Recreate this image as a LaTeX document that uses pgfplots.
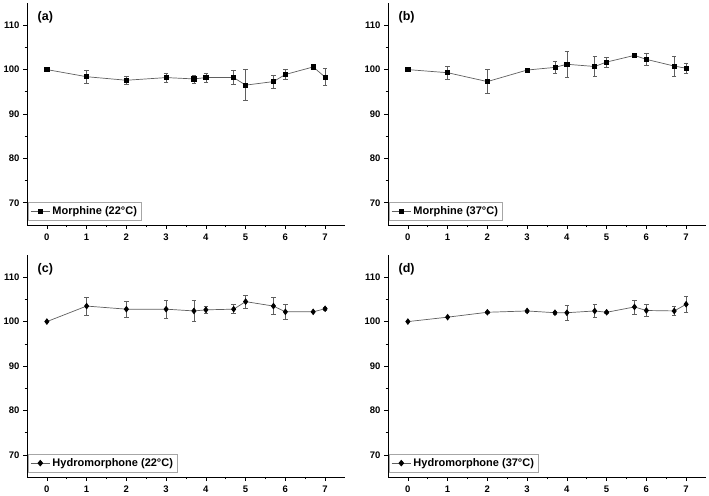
\documentclass[border=0pt]{standalone}
\usepackage{fontspec}
\setmainfont{Liberation Sans}
\usepackage{pgfplots}
\pgfplotsset{compat=1.18}
\definecolor{lncol}{RGB}{95,95,95}
\pgfplotsset{
  panel/.style={
    scale only axis, width=318pt, height=222pt,
    xmin=-0.5, xmax=7.5, ymin=65, ymax=115,
    axis x line=bottom, axis y line=left,
    axis line style={-, black, line width=0.6pt},
    xtick={0,...,7}, ytick={70,80,90,100,110},
    minor x tick num=1, minor y tick num=1,
    tick align=outside,
    major tick length=4pt, minor tick length=2.5pt,
    every tick/.style={black, line width=0.6pt},
    /pgf/number format/assume math mode=true,
    tick label style={font=\bfseries\fontsize{9.5}{11}\selectfont},
    xticklabel style={yshift=-1.5pt},
    legend style={at={(0.003,0.02)}, anchor=south west, draw=gray!70, line width=0.4pt,
      font=\bfseries\fontsize{11}{12.5}\selectfont, inner xsep=2pt, inner ysep=2.5pt, row sep=0pt},
    legend image post style={xscale=1.15},
    legend cell align=left,
    clip=false,
  },
  ser/.style={color=lncol, line width=0.7pt,
    mark options={fill=black, draw=black, solid},
    error bars/y dir=both, error bars/y explicit,
    error bars/error bar style={lncol, line width=0.6pt},
    error bars/error mark options={rotate=90, mark size=2.2pt, lncol, line width=0.6pt}},
}
\begin{document}
\begin{tikzpicture}
\path[use as bounding box] (0pt,0pt) rectangle (709pt,495pt);
% (a)
\begin{axis}[panel, at={(27pt,270pt)}, anchor=south west]
\addplot+[ser, mark=square*, mark size=2.1pt] coordinates {
 (0,100) +- (0,0)
 (1,98.4) +- (0,1.4)
 (2,97.6) +- (0,0.95)
 (3,98.2) +- (0,1.05)
 (3.7,97.9) +- (0,0.9)
 (4,98.2) +- (0,1.05)
 (4.7,98.2) +- (0,1.6)
 (5,96.5) +- (0,3.5)
 (5.7,97.3) +- (0,1.5)
 (6,98.9) +- (0,1.1)
 (6.7,100.6) +- (0,0.5)
 (7,98.3) +- (0,1.9)
};
\addlegendentry{Morphine (22°C)}
\node[anchor=west, font=\bfseries\fontsize{12.5}{14}\selectfont] at (axis cs:-0.32,111.8) {(a)};
\end{axis}
% (b)
\begin{axis}[panel, at={(388pt,270pt)}, anchor=south west]
\addplot+[ser, mark=square*, mark size=2.1pt] coordinates {
 (0,100) +- (0,0)
 (1,99.3) +- (0,1.4)
 (2,97.3) +- (0,2.7)
 (3,99.9) +- (0,0.2)
 (3.7,100.5) +- (0,1.4)
 (4,101.2) +- (0,2.9)
 (4.7,100.7) +- (0,2.2)
 (5,101.7) +- (0,1.1)
 (5.7,103.2) +- (0,0.2)
 (6,102.3) +- (0,1.3)
 (6.7,100.8) +- (0,2.3)
 (7,100.3) +- (0,1.1)
};
\addlegendentry{Morphine (37°C)}
\node[anchor=west, font=\bfseries\fontsize{12.5}{14}\selectfont] at (axis cs:-0.32,111.8) {(b)};
\end{axis}
% (c)
\begin{axis}[panel, at={(27pt,18pt)}, anchor=south west]
\addplot+[ser, mark=diamond*, mark size=2.8pt] coordinates {
 (0,100) +- (0,0)
 (1,103.5) +- (0,2.0)
 (2,102.8) +- (0,1.8)
 (3,102.8) +- (0,2.0)
 (3.7,102.4) +- (0,2.3)
 (4,102.65) +- (0,0.7)
 (4.7,102.8) +- (0,1.0)
 (5,104.5) +- (0,1.5)
 (5.7,103.5) +- (0,1.9)
 (6,102.2) +- (0,1.7)
 (6.7,102.2) +- (0,0)
 (7,102.9) +- (0,0.3)
};
\addlegendentry{Hydromorphone (22°C)}
\node[anchor=west, font=\bfseries\fontsize{12.5}{14}\selectfont] at (axis cs:-0.32,111.8) {(c)};
\end{axis}
% (d)
\begin{axis}[panel, at={(388pt,18pt)}, anchor=south west]
\addplot+[ser, mark=diamond*, mark size=2.8pt] coordinates {
 (0,100) +- (0,0)
 (1,101.0) +- (0,0)
 (2,102.1) +- (0,0.2)
 (3,102.4) +- (0,0.2)
 (3.7,102.0) +- (0,0.3)
 (4,102.0) +- (0,1.7)
 (4.7,102.4) +- (0,1.4)
 (5,102.1) +- (0,0.2)
 (5.7,103.3) +- (0,1.6)
 (6,102.5) +- (0,1.3)
 (6.7,102.4) +- (0,1.0)
 (7,103.9) +- (0,1.7)
};
\addlegendentry{Hydromorphone (37°C)}
\node[anchor=west, font=\bfseries\fontsize{12.5}{14}\selectfont] at (axis cs:-0.32,111.8) {(d)};
\end{axis}
\end{tikzpicture}
\end{document}
